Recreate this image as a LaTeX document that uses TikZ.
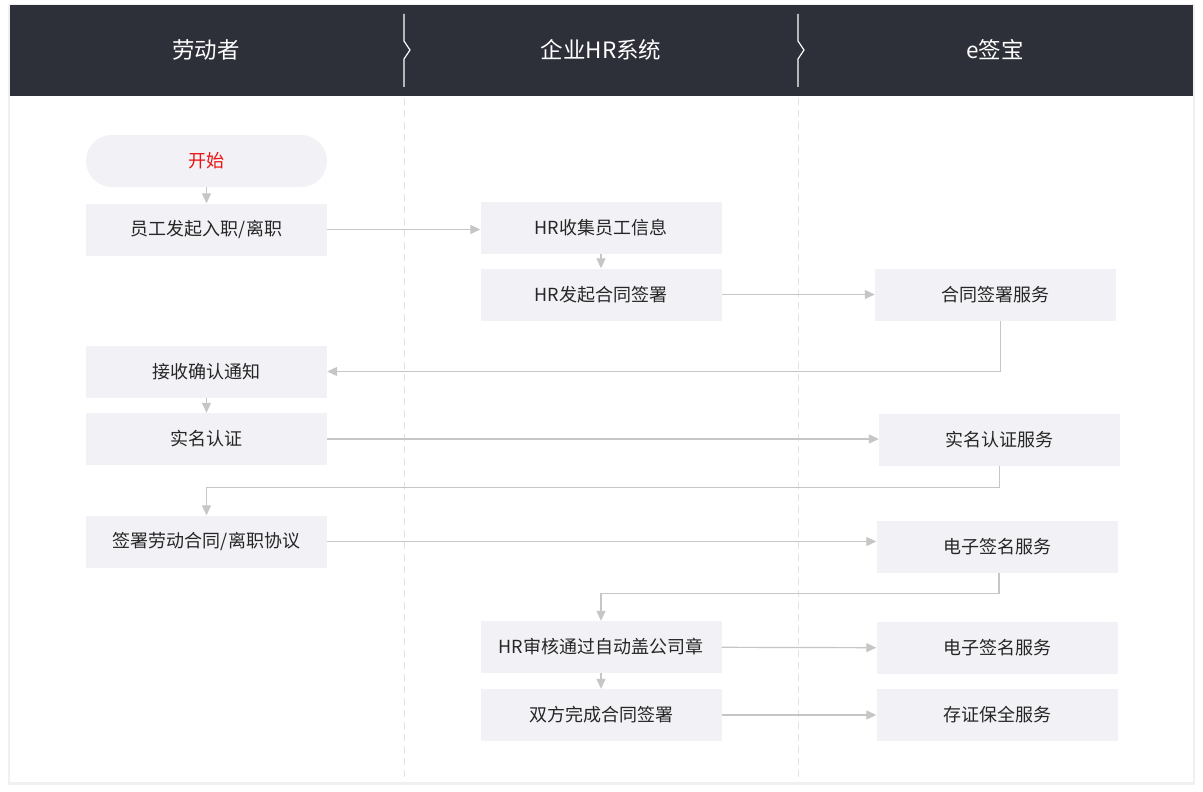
\documentclass[tikz,border=0pt]{standalone}
\usepackage{fontspec}
\setmainfont{Noto Sans CJK SC}
\usetikzlibrary{arrows.meta}

\definecolor{headbg}{HTML}{2E3039}
\definecolor{boxbg}{HTML}{F2F2F6}
\definecolor{linegray}{HTML}{C6C6C6}
\definecolor{dashgray}{HTML}{E2E2E2}
\definecolor{txt}{HTML}{262626}
\definecolor{startred}{HTML}{EE1111}

\begin{document}
\begin{tikzpicture}[x=1pt, y=-1pt,
	box/.style = {fill = boxbg, minimum width = 241pt, minimum height = 52pt,
				  inner sep = 0pt, text = txt, font = \fontsize{18}{18}\selectfont},
	lane/.style = {text = white, font = \fontsize{22.5}{22.5}\selectfont},
	arr/.style = {draw = linegray, line width = 1.2pt,
				  -{Triangle[length = 10pt, width = 9pt]}},
	sep/.style = {draw = white, line width = 1.2pt},
	lanedash/.style = {draw = dashgray, line width = 1pt, dash pattern = on 7pt off 5pt}]

	\useasboundingbox (0,0) rectangle (1203,792);

	% card and header
	\fill[black!6] (8,4) rectangle (1195,785);
	\fill[white] (10,5) rectangle (1193,782);
	\fill[headbg] (10,5) rectangle (1193,96);

	\draw (206,50) node[lane] (L1) {劳动者};
	\draw (601,50) node[lane] (L2) {企业HR系统};
	\draw (995,50) node[lane] (L3) {e签宝};

	\draw[sep] (404,14) -- (404,41) -- (410,50) -- (404,59) -- (404,87);
	\draw[sep] (798,14) -- (798,41) -- (804,50) -- (798,59) -- (798,87);

	\draw[lanedash] (404,98) -- (404,782);
	\draw[lanedash] (798,98) -- (798,782);

	% 劳动者
	\draw (206.5,161) node[box, rounded corners = 26pt,
					text = startred] (start) {开始};
	\draw (206.5,229.5) node[box] (s1) {员工发起入职/离职};
	\draw (206.5,371.5) node[box] (s2) {接收确认通知};
	\draw (206.5,439) node[box] (s3) {实名认证};
	\draw (206.5,541.5) node[box] (s4) {签署劳动合同/离职协议};

	% 企业HR系统
	\draw (601,228) node[box] (h1) {HR收集员工信息};
	\draw (601,294.5) node[box] (h2) {HR发起合同签署};
	\draw (601,647) node[box] (h3) {HR审核通过自动盖公司章};
	\draw (601,715) node[box] (h4) {双方完成合同签署};

	% e签宝
	\draw (995.5,294.5) node[box] (e1) {合同签署服务};
	\draw (999.5,439.5) node[box] (e2) {实名认证服务};
	\draw (997,547) node[box] (e3) {电子签名服务};
	\draw (997,648) node[box] (e4) {电子签名服务};
	\draw (997,715) node[box] (e5) {存证保全服务};

	\draw[arr] (start) -- (s1);
	\draw[arr] (s1.east) -- (s1.east -| h1.west);
	\draw[arr] (h1) -- (h2);
	\draw[arr] (h2) -- (e1);
	\draw[arr] ([xshift = 5pt]e1.south) |- (s2.east);
	\draw[arr] (s2) -- (s3);
	\draw[arr] (s3.east) -- (s3.east -| e2.west);
	\draw[arr] (e2.south) -- ++(0,22) -| (s4.north);
	\draw[arr] (s4.east) -- (s4.east -| e3.west);
	\draw[arr] ([xshift = 2pt]e3.south) -- ++(0,20) -| (h3.north);
	\draw[arr] (h3) -- (e4);
	\draw[arr] (h3) -- (h4);
	\draw[arr] (h4) -- (e5);
\end{tikzpicture}
\end{document}
